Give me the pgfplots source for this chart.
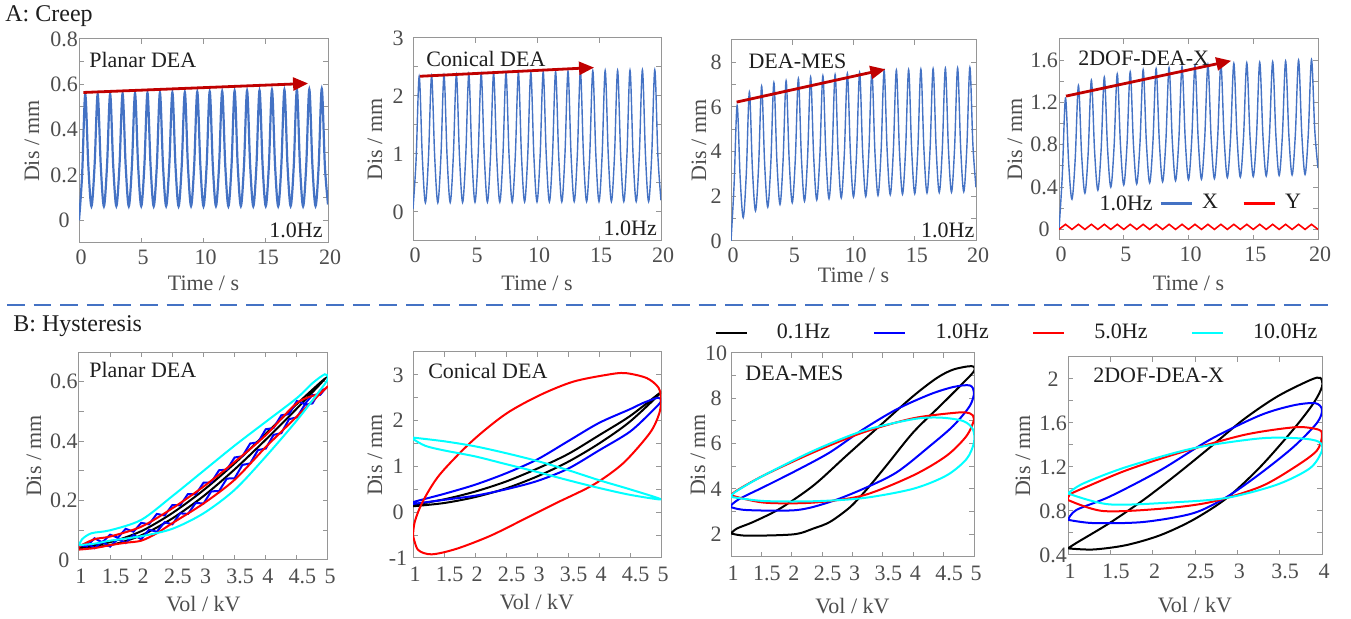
\documentclass[border=0pt]{standalone}
\usepackage{pgfplots}
\pgfplotsset{compat=1.18}
\usepackage{fontspec}
\setmainfont{Liberation Serif}
\usetikzlibrary{arrows.meta}
\definecolor{cblue}{RGB}{68,114,196}
\definecolor{darr}{RGB}{192,0,0}
\definecolor{tgray}{RGB}{77,77,77}
\definecolor{agray}{RGB}{150,150,150}
\definecolor{ttl}{RGB}{30,30,30}
\definecolor{hblue}{RGB}{0,0,255}
\definecolor{hred}{RGB}{255,0,0}
\definecolor{hcyan}{RGB}{0,255,255}
\tikzset{
  ptxt/.style={anchor=west, inner sep=0pt, text=ttl, font=\fontsize{11}{13}\selectfont},
  arr/.style={darr, line width=1.4pt, -{Triangle[length=7.5pt,width=6.5pt]}},
  hl/.style={line width=1pt, smooth, tension=0.5},
}
\pgfplotsset{
  base/.style={
    scale only axis, anchor=south west,
    axis line style={draw=agray, line width=0.5pt},
    tick style={draw=agray, line width=0.5pt},
    tick align=inside, major tick length=2.5pt, minor tick length=2.5pt,
    ticklabel style={text=tgray, font=\fontsize{11}{13}\selectfont},
    yticklabel style={anchor=center, xshift=-7.5pt},
    xticklabel style={xshift=1pt},
    label style={text=tgray, font=\fontsize{11}{13}\selectfont},
    /pgf/number format/assume math mode=true,
  },
  creep/.style={base, xmin=0, xmax=20, xtick={0,5,10,15,20}, xlabel={Time / s}, ylabel={Dis / mm}},
  hyst/.style={base, xmin=1, xlabel={Vol / kV}, ylabel={Dis / mm}, xticklabel style={yshift=-1pt}},
  xl/.style={xlabel style={at={(axis description cs:0.5,-#1)}, anchor=center}},
  yl/.style={ylabel style={at={(axis description cs:-#1,0.5)}, anchor=center}},
}
\newcommand{\hs}{\hspace*{3.5pt}}
\begin{document}
\begin{tikzpicture}
\useasboundingbox (0pt,0pt) rectangle (675.5pt,309.5pt);
\node[anchor=west, inner sep=0pt, text=ttl, font=\fontsize{12}{14}\selectfont] at (2.5pt,301.5pt) {A: Creep};
\node[anchor=west, inner sep=0pt, text=ttl, font=\fontsize{12}{14}\selectfont] at (6.5pt,146.5pt) {B: Hysteresis};
\draw[cblue, line width=0.9pt, dash pattern=on 8.8pt off 4.5pt] (3.5pt,157pt) -- (668pt,157pt);

% ---------- P1 Planar creep
\begin{axis}[creep, at={(39.5pt,188pt)}, width=124.5pt, height=102pt,
  ymin=-0.1, ymax=0.8, ytick={0,0.2,0.4,0.6,0.8}, minor y tick num=1, xl=0.196, yl=0.189]
\addplot[cblue, line width=1.1pt, smooth, tension=0.55] coordinates {
(0,0)(0.25,0.2)(0.5,0.555)(0.75,0.24)(1,0.062)(1.25,0.24)(1.5,0.556)(1.75,0.24)(2,0.062)(2.25,0.24)(2.5,0.558)(2.75,0.24)(3,0.063)(3.25,0.24)(3.5,0.559)(3.75,0.24)(4,0.062)(4.25,0.24)(4.5,0.560)(4.75,0.24)(5,0.063)(5.25,0.24)(5.5,0.562)(5.75,0.24)(6,0.062)(6.25,0.24)(6.5,0.563)(6.75,0.24)(7,0.063)(7.25,0.24)(7.5,0.564)(7.75,0.24)(8,0.062)(8.25,0.24)(8.5,0.565)(8.75,0.24)(9,0.063)(9.25,0.24)(9.5,0.567)(9.75,0.24)(10,0.062)(10.25,0.24)(10.5,0.568)(10.75,0.24)(11,0.063)(11.25,0.24)(11.5,0.569)(11.75,0.24)(12,0.062)(12.25,0.24)(12.5,0.571)(12.75,0.24)(13,0.063)(13.25,0.24)(13.5,0.572)(13.75,0.24)(14,0.062)(14.25,0.24)(14.5,0.573)(14.75,0.24)(15,0.063)(15.25,0.24)(15.5,0.575)(15.75,0.24)(16,0.062)(16.25,0.24)(16.5,0.576)(16.75,0.24)(17,0.063)(17.25,0.24)(17.5,0.577)(17.75,0.24)(18,0.062)(18.25,0.24)(18.5,0.578)(18.75,0.24)(19,0.063)(19.25,0.24)(19.5,0.580)(19.75,0.24)(20,0.07)};
\draw[arr] (axis cs:0.35,0.564) -- (axis cs:18.4,0.604);
\node[ptxt] at (rel axis cs:0.04,0.897) {Planar DEA};
\node[ptxt, anchor=east] at (rel axis cs:0.98,0.064) {1.0Hz};
\end{axis}

% ---------- P2 Conical creep
\begin{axis}[creep, at={(206.5pt,189pt)}, width=124pt, height=101.5pt,
  ymin=-0.5, ymax=3, ytick={0,1,2,3}, minor y tick num=1, xl=0.207, yl=0.153]
\addplot[cblue, line width=0.7pt, smooth, tension=0.55] coordinates {
(0,0.05)(0.25,0.9)(0.5,2.34)(0.75,0.95)(1,0.16)(1.25,0.95)(1.5,2.35)(1.75,0.95)(2,0.16)(2.25,0.95)(2.5,2.36)(2.75,0.95)(3,0.165)(3.25,0.95)(3.5,2.37)(3.75,0.95)(4,0.165)(4.25,0.95)(4.5,2.38)(4.75,0.95)(5,0.17)(5.25,0.96)(5.5,2.385)(5.75,0.96)(6,0.17)(6.25,0.96)(6.5,2.39)(6.75,0.96)(7,0.17)(7.25,0.96)(7.5,2.40)(7.75,0.96)(8,0.17)(8.25,0.96)(8.5,2.405)(8.75,0.96)(9,0.175)(9.25,0.96)(9.5,2.41)(9.75,0.96)(10,0.175)(10.25,0.96)(10.5,2.415)(10.75,0.96)(11,0.175)(11.25,0.97)(11.5,2.42)(11.75,0.97)(12,0.175)(12.25,0.97)(12.5,2.425)(12.75,0.97)(13,0.18)(13.25,0.97)(13.5,2.43)(13.75,0.97)(14,0.18)(14.25,0.97)(14.5,2.435)(14.75,0.97)(15,0.18)(15.25,0.97)(15.5,2.44)(15.75,0.97)(16,0.18)(16.25,0.97)(16.5,2.44)(16.75,0.97)(17,0.18)(17.25,0.97)(17.5,2.445)(17.75,0.97)(18,0.18)(18.25,0.97)(18.5,2.45)(18.75,0.97)(19,0.18)(19.25,0.97)(19.5,2.45)(19.75,0.97)(20,0.2)};
\draw[arr] (axis cs:0.56,2.34) -- (axis cs:14.6,2.49);
\node[ptxt] at (rel axis cs:0.052,0.897) {Conical DEA};
\node[ptxt, anchor=east] at (rel axis cs:0.985,0.06) {1.0Hz};
\end{axis}

% ---------- P3 DEA-MES creep
\begin{axis}[creep, at={(365.5pt,189pt)}, width=122.5pt, height=100.5pt,
  ymin=0, ymax=9, ytick={0,2,4,6,8}, minor y tick num=1, xl=0.169, yl=0.131]
\addplot[cblue, line width=0.7pt, smooth, tension=0.55] coordinates {
(0,0)(0.25,2.5)(0.5,6.07)(0.75,2.81)(1,1.05)(1.25,3.02)(1.5,6.67)(1.75,3.21)(2,1.35)(2.25,3.30)(2.5,6.93)(2.75,3.41)(3,1.52)(3.25,3.47)(3.5,7.09)(3.75,3.55)(4,1.64)(4.25,3.58)(4.5,7.17)(4.75,3.63)(5,1.72)(5.25,3.66)(5.5,7.27)(5.75,3.70)(6,1.78)(6.25,3.73)(6.5,7.34)(6.75,3.77)(7,1.84)(7.25,3.79)(7.5,7.40)(7.75,3.82)(8,1.89)(8.25,3.84)(8.5,7.45)(8.75,3.86)(9,1.93)(9.25,3.88)(9.5,7.50)(9.75,3.91)(10,1.97)(10.25,3.92)(10.5,7.54)(10.75,3.94)(11,2.0)(11.25,3.95)(11.5,7.58)(11.75,3.98)(12,2.04)(12.25,3.99)(12.5,7.62)(12.75,4.01)(13,2.07)(13.25,4.02)(13.5,7.65)(13.75,4.04)(14,2.1)(14.25,4.05)(14.5,7.67)(14.75,4.06)(15,2.12)(15.25,4.07)(15.5,7.69)(15.75,4.09)(16,2.15)(16.25,4.10)(16.5,7.71)(16.75,4.11)(17,2.17)(17.25,4.12)(17.5,7.73)(17.75,4.13)(18,2.19)(18.25,4.14)(18.5,7.75)(18.75,4.15)(19,2.21)(19.25,4.16)(19.5,7.77)(19.75,4.28)(20,2.4)};
\draw[arr] (axis cs:0.46,6.22) -- (axis cs:12.6,7.69);
\node[ptxt] at (rel axis cs:0.07,0.895) {DEA-MES};
\node[ptxt, anchor=east] at (rel axis cs:0.995,0.055) {1.0Hz};
\end{axis}

% ---------- P4 2DOF creep
\begin{axis}[creep, at={(529.5pt,189.5pt)}, width=129.5pt, height=100.5pt,
  ymin=-0.1, ymax=1.8, ytick={0,0.4,0.8,1.2,1.6}, minor y tick num=1, xl=0.214, yl=0.17,
  legend style={at={(axis description cs:0.385,0.184)}, anchor=west, draw=none, fill=none, inner sep=0pt,
    legend columns=2, font=\fontsize{11}{13}\selectfont, text=ttl,
    /tikz/every odd column/.append style={column sep=2.5pt},
    /tikz/every even column/.append style={column sep=10pt}},
  legend image code/.code={\draw[#1, line width=1.5pt] (0pt,0pt) -- (15.5pt,0pt);}]
\addplot[cblue, line width=0.7pt, smooth, tension=0.55] coordinates {
(0,0)(0.25,0.5)(0.5,1.24)(0.75,0.62)(1,0.286)(1.25,0.662)(1.5,1.36)(1.75,0.699)(2,0.343)(2.25,0.716)(2.5,1.41)(2.75,0.735)(3,0.371)(3.25,0.745)(3.5,1.44)(3.75,0.764)(4,0.40)(4.25,0.775)(4.5,1.47)(4.75,0.788)(5,0.42)(5.25,0.795)(5.5,1.49)(5.75,0.801)(6,0.43)(6.25,0.808)(6.5,1.51)(6.75,0.815)(7,0.44)(7.25,0.818)(7.5,1.52)(7.75,0.825)(8,0.45)(8.25,0.828)(8.5,1.53)(8.75,0.835)(9,0.46)(9.25,0.838)(9.5,1.54)(9.75,0.845)(10,0.47)(10.25,0.848)(10.5,1.55)(10.75,0.851)(11,0.475)(11.25,0.855)(11.5,1.56)(11.75,0.858)(12,0.48)(12.25,0.86)(12.5,1.565)(12.75,0.866)(13,0.49)(13.25,0.868)(13.5,1.57)(13.75,0.871)(14,0.495)(14.25,0.873)(14.5,1.575)(14.75,0.876)(15,0.50)(15.25,0.878)(15.5,1.58)(15.75,0.881)(16,0.505)(16.25,0.883)(16.5,1.585)(16.75,0.886)(17,0.51)(17.25,0.888)(17.5,1.59)(17.75,0.891)(18,0.515)(18.25,0.895)(18.5,1.60)(18.75,0.898)(19,0.52)(19.25,0.9)(19.5,1.605)(19.75,0.94)(20,0.58)};
\addlegendentry{X}
\addplot[hred, line width=0.8pt] coordinates {
(0,0.0)(0.5,0.048)(1,0.0)(1.5,0.048)(2,0.0)(2.5,0.048)(3,0.0)(3.5,0.048)(4,0.0)(4.5,0.048)(5,0.0)(5.5,0.048)(6,0.0)(6.5,0.048)(7,0.0)(7.5,0.048)(8,0.0)(8.5,0.048)(9,0.0)(9.5,0.048)(10,0.0)(10.5,0.048)(11,0.0)(11.5,0.048)(12,0.0)(12.5,0.048)(13,0.0)(13.5,0.048)(14,0.0)(14.5,0.048)(15,0.0)(15.5,0.048)(16,0.0)(16.5,0.048)(17,0.0)(17.5,0.048)(18,0.0)(18.5,0.048)(19,0.0)(19.5,0.048)(20,0.0)};
\addlegendentry{Y}
\draw[arr] (axis cs:0.54,1.26) -- (axis cs:13.3,1.594);
\node[ptxt] at (rel axis cs:0.073,0.905) {2DOF-DEA-X};
\node[ptxt] at (rel axis cs:0.155,0.184) {1.0Hz};
\end{axis}

% ---------- P5 Planar hysteresis
\begin{axis}[hyst, at={(39.5pt,29.5pt)}, width=124.5pt, height=104pt,
  xmax=5, ymin=0, ymax=0.7, xtick={1,1.5,2,2.5,3,3.5,4,4.5,5},
  xticklabels={1,\hs1.5,2,\hs2.5,3,\hs3.5,4,\hs4.5,5}, ytick={0,0.2,0.4,0.6}, minor y tick num=1,
  xl=0.212, yl=0.181]
\addplot[black, hl] coordinates {(1,0.04)(1.5,0.05)(2,0.083)(2.5,0.14)(3,0.215)(3.5,0.305)(4,0.405)(4.5,0.51)(4.95,0.61)(4.5,0.525)(4,0.425)(3.5,0.325)(3,0.235)(2.5,0.158)(2,0.097)(1.5,0.06)(1,0.042)};
\addplot[hblue, line width=1pt] coordinates {(1.0,0.045)(1.125,0.057)(1.25,0.04)(1.375,0.062)(1.5,0.045)(1.625,0.071)(1.75,0.057)(1.875,0.084)(2.0,0.07)(2.125,0.102)(2.25,0.095)(2.375,0.127)(2.5,0.12)(2.625,0.157)(2.75,0.155)(2.875,0.192)(3.0,0.19)(3.125,0.231)(3.25,0.232)(3.375,0.274)(3.5,0.275)(3.625,0.32)(3.75,0.325)(3.875,0.37)(4.0,0.375)(4.125,0.421)(4.25,0.427)(4.375,0.474)(4.5,0.48)(4.625,0.522)(4.75,0.527)(4.875,0.571)(4.95,0.575)(4.875,0.556)(4.75,0.555)(4.625,0.525)(4.5,0.535)(4.375,0.491)(4.25,0.487)(4.125,0.444)(4.0,0.44)(3.875,0.396)(3.75,0.392)(3.625,0.349)(3.5,0.345)(3.375,0.304)(3.25,0.302)(3.125,0.261)(3.0,0.26)(2.875,0.221)(2.75,0.222)(2.625,0.184)(2.5,0.185)(2.375,0.15)(2.25,0.155)(2.125,0.12)(2.0,0.125)(1.875,0.095)(1.75,0.105)(1.625,0.075)(1.5,0.085)(1.375,0.059)(1.25,0.073)(1.125,0.046)(1.0,0.05)(1.0,0.045)};
\addplot[hred, hl] coordinates {(1,0.035)(1.25,0.04)(1.5,0.05)(1.75,0.058)(2,0.065)(2.25,0.09)(2.5,0.124)(3,0.19)(3.5,0.27)(4,0.38)(4.5,0.483)(4.8,0.545)(5,0.585)(4.85,0.56)(4.5,0.528)(4,0.42)(3.5,0.33)(3,0.247)(2.5,0.174)(2,0.112)(1.5,0.079)(1.25,0.07)(1,0.045)(1,0.035)};
\addplot[hcyan, hl] coordinates {(1,0.05)(1.25,0.055)(1.5,0.065)(2,0.08)(2.5,0.105)(3,0.157)(3.5,0.236)(4,0.348)(4.5,0.47)(4.85,0.565)(5,0.61)(4.95,0.625)(4.75,0.595)(4.5,0.545)(4,0.465)(3.5,0.385)(3,0.3)(2.5,0.215)(2,0.135)(1.5,0.1)(1.2,0.09)(1.05,0.07)(1,0.05)};
\node[ptxt] at (rel axis cs:0.04,0.913) {Planar DEA};
\end{axis}

% ---------- P6 Conical hysteresis
\begin{axis}[hyst, at={(206.5pt,30.5pt)}, width=124pt, height=103pt,
  xmax=5, ymin=-1, ymax=3.5, xtick={1,1.5,2,2.5,3,3.5,4,4.5,5},
  xticklabels={1,\hs1.5,2,\hs2.5,3,\hs3.5,4,\hs4.5,5}, ytick={-1,0,1,2,3}, minor y tick num=1,
  xl=0.214, yl=0.153]
\addplot[black, hl] coordinates {(1,0.13)(1.5,0.2)(2,0.33)(2.5,0.52)(3,0.78)(3.5,1.1)(4,1.5)(4.5,1.98)(5,2.62)(4.5,2.1)(4,1.68)(3.5,1.27)(3,0.95)(2.5,0.67)(2,0.45)(1.5,0.28)(1,0.16)(1,0.13)};
\addplot[hblue, hl] coordinates {(1,0.18)(1.5,0.27)(2,0.36)(2.5,0.5)(3,0.68)(3.5,0.95)(4,1.35)(4.5,1.76)(4.85,2.2)(5,2.42)(4.95,2.5)(4.7,2.38)(4.5,2.25)(4,1.95)(3.5,1.55)(3,1.15)(2.5,0.85)(2,0.6)(1.5,0.4)(1,0.22)(1,0.18)};
\addplot[hred, hl] coordinates {(1.0,-0.5)(1.03,-0.2)(1.16,0.24)(1.43,0.82)(1.95,1.55)(2.5,2.15)(3.05,2.56)(3.58,2.85)(4.12,3.0)(4.42,3.04)(4.77,2.93)(4.96,2.72)(5.0,2.45)(4.97,2.15)(4.82,1.73)(4.39,1.07)(3.91,0.6)(3.31,0.2)(2.78,-0.16)(2.24,-0.52)(1.70,-0.8)(1.30,-0.92)(1.08,-0.82)(1.0,-0.5)};
\addplot[hcyan, hl] coordinates {(1.0,1.63)(1.5,1.55)(2,1.44)(2.5,1.29)(3,1.12)(3.5,0.92)(4,0.7)(4.5,0.5)(5,0.28)(4.5,0.38)(4,0.53)(3.5,0.7)(3,0.88)(2.5,1.05)(2,1.22)(1.5,1.35)(1.2,1.45)(1.0,1.6)(1.0,1.63)};
\node[ptxt] at (rel axis cs:0.06,0.908) {Conical DEA};
\end{axis}

% ---------- P7 DEA-MES hysteresis
\begin{axis}[hyst, at={(365.5pt,31pt)}, width=121.5pt, height=102pt,
  xmax=5, ymin=1, ymax=10, xtick={1,1.5,2,2.5,3,3.5,4,4.5,5},
  xticklabels={1,\hs1.5,2,\hs2.5,3,\hs3.5,4,\hs4.5,5}, ytick={2,4,6,8,10}, minor y tick num=1,
  xl=0.24, yl=0.136,
  legend style={at={(axis description cs:-0.07,1.098)}, anchor=west, draw=none, fill=none, inner sep=0pt,
    legend columns=4, font=\fontsize{11}{13}\selectfont, text=ttl,
    /tikz/every odd column/.append style={column sep=12.5pt},
    /tikz/every even column/.append style={column sep=19.5pt}},
  legend image code/.code={\draw[#1, line width=1.3pt] (0pt,0pt) -- (15.5pt,0pt);}]
\addplot[black, hl] coordinates {(1.0,2.04)(1.26,1.94)(2.03,2.0)(2.36,2.26)(2.63,2.55)(2.96,3.2)(3.24,4.0)(3.56,5.04)(4.0,6.5)(4.44,7.66)(4.77,8.54)(5.0,9.2)(4.96,9.42)(4.66,9.27)(4.39,8.9)(4.0,8.1)(3.45,6.79)(2.9,5.47)(2.36,4.16)(1.81,3.14)(1.37,2.55)(1.1,2.26)(1.0,2.04)};
\addlegendentry{0.1Hz}
\addplot[hblue, hl] coordinates {(1.0,3.2)(1.26,3.07)(2.08,3.07)(2.63,3.43)(3.18,4.01)(3.73,4.74)(4.28,5.91)(4.66,6.79)(4.93,7.66)(5.0,8.25)(4.93,8.57)(4.66,8.5)(4.28,8.18)(3.73,7.52)(3.18,6.64)(2.63,5.62)(2.08,4.82)(1.54,4.09)(1.15,3.58)(1.0,3.28)(1.0,3.2)};
\addlegendentry{1.0Hz}
\addplot[hred, hl] coordinates {(1.0,3.72)(1.54,3.4)(2.36,3.4)(3.18,3.72)(4.0,4.6)(4.55,5.47)(4.88,6.35)(5.0,7.08)(4.93,7.34)(4.72,7.37)(4.0,7.12)(3.18,6.5)(2.36,5.62)(1.54,4.6)(1.1,3.94)(1.0,3.72)};
\addlegendentry{5.0Hz}
\addplot[hcyan, hl] coordinates {(1.0,3.65)(1.54,3.47)(2.36,3.46)(3.18,3.6)(4.0,4.01)(4.55,4.6)(4.88,5.33)(5.0,6.06)(4.98,6.64)(4.82,7.0)(4.44,7.15)(4.0,7.08)(3.18,6.57)(2.36,5.69)(1.54,4.6)(1.07,3.87)(1.0,3.65)};
\addlegendentry{10.0Hz}
\node[ptxt] at (rel axis cs:0.058,0.902) {DEA-MES};
\end{axis}

% ---------- P8 2DOF hysteresis
\begin{axis}[hyst, at={(534pt,32pt)}, width=127pt, height=99pt,
  xmax=4, ymin=0.4, ymax=2.2, xtick={1,1.5,2,2.5,3,3.5,4},
  xticklabels={1,\hs1.5,2,\hs2.5,3,\hs3.5,4}, ytick={0.4,0.8,1.2,1.6,2}, minor y tick num=1,
  xl=0.253, yl=0.177]
\addplot[black, hl] coordinates {(1.0,0.46)(1.3,0.45)(1.69,0.49)(2.09,0.58)(2.48,0.72)(2.88,0.92)(3.27,1.2)(3.66,1.54)(3.9,1.78)(4.0,1.93)(3.98,2.01)(3.86,1.99)(3.47,1.84)(3.07,1.63)(2.68,1.38)(2.28,1.13)(1.89,0.9)(1.49,0.69)(1.1,0.51)(1.0,0.46)};
\addplot[hblue, hl] coordinates {(1.0,0.72)(1.3,0.69)(1.89,0.70)(2.48,0.78)(2.88,0.93)(3.27,1.14)(3.66,1.38)(3.94,1.6)(4.0,1.72)(3.92,1.78)(3.66,1.76)(3.27,1.67)(2.68,1.45)(2.09,1.17)(1.49,0.93)(1.1,0.81)(1.0,0.72)};
\addplot[hred, hl] coordinates {(1.0,0.9)(1.41,0.8)(2.09,0.82)(2.68,0.88)(3.27,1.02)(3.66,1.19)(3.94,1.35)(4.0,1.51)(3.9,1.55)(3.66,1.56)(3.07,1.49)(2.28,1.32)(1.69,1.17)(1.22,1.02)(1.02,0.95)(1.0,0.9)};
\addplot[hcyan, hl] coordinates {(1.0,0.96)(1.49,0.86)(2.28,0.88)(2.88,0.92)(3.47,1.04)(3.86,1.19)(4.0,1.35)(3.96,1.43)(3.74,1.46)(3.27,1.46)(2.48,1.37)(1.69,1.2)(1.18,1.05)(1.0,0.96)};
\node[ptxt] at (rel axis cs:0.098,0.909) {2DOF-DEA-X};
\end{axis}
\end{tikzpicture}
\end{document}
